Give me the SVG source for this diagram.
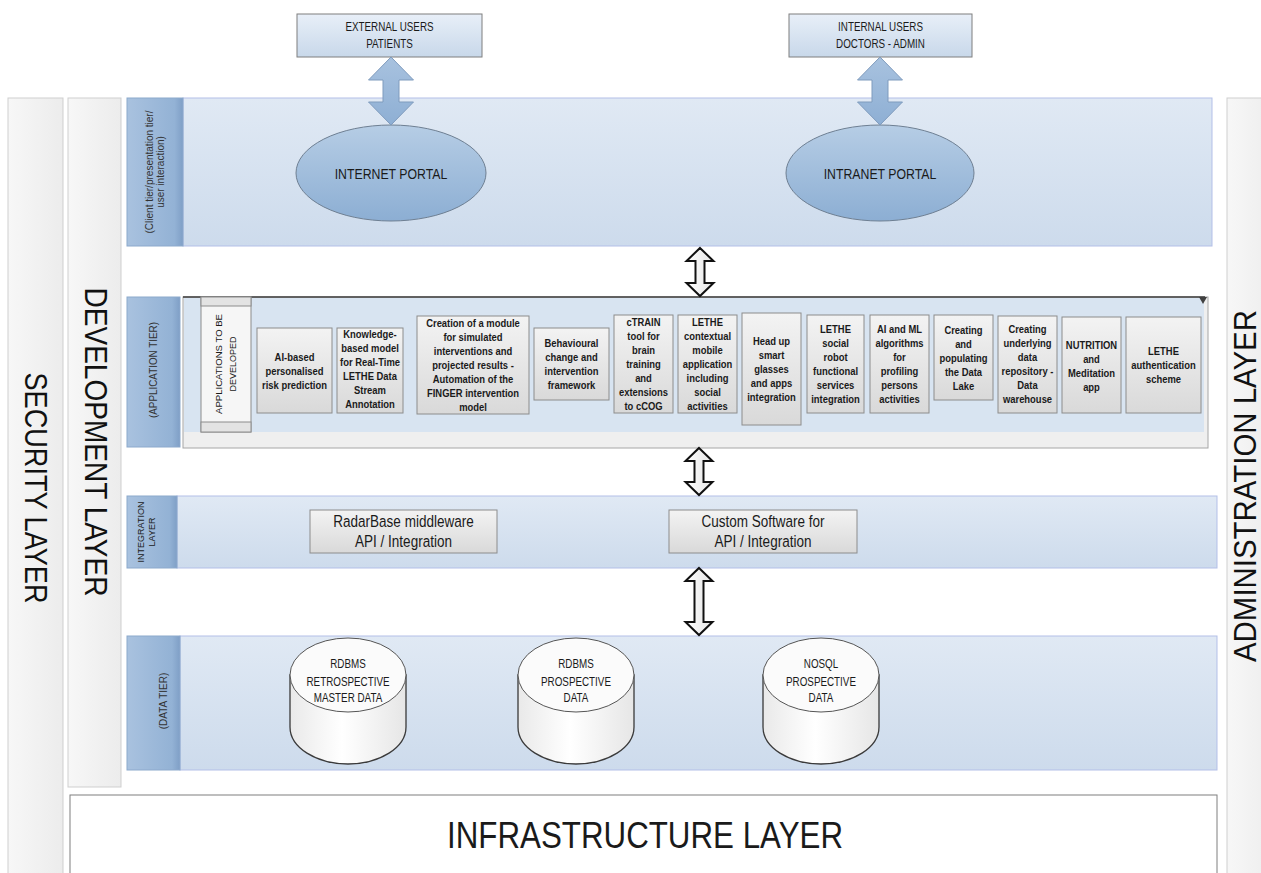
<svg xmlns="http://www.w3.org/2000/svg" width="1261" height="873" viewBox="0 0 1261 873">
  <defs>
    <linearGradient id="gSide" x1="0" y1="0" x2="1" y2="0">
      <stop offset="0" stop-color="#f7f7f7"/>
      <stop offset="1" stop-color="#ececec"/>
    </linearGradient>
    <linearGradient id="gBand" x1="0" y1="0" x2="0" y2="1">
      <stop offset="0" stop-color="#e0e9f4"/>
      <stop offset="1" stop-color="#cddbec"/>
    </linearGradient>
    <linearGradient id="gTab" x1="0" y1="0" x2="1" y2="0">
      <stop offset="0" stop-color="#a9c2df"/>
      <stop offset="0.85" stop-color="#93b2d5"/>
      <stop offset="1" stop-color="#7f9fc6"/>
    </linearGradient>
    <linearGradient id="gUser" x1="0" y1="0" x2="0" y2="1">
      <stop offset="0" stop-color="#e8eff8"/>
      <stop offset="1" stop-color="#c8d8ea"/>
    </linearGradient>
    <linearGradient id="gPortal" x1="0" y1="0" x2="0" y2="1">
      <stop offset="0" stop-color="#b6cde5"/>
      <stop offset="1" stop-color="#8caed3"/>
    </linearGradient>
    <linearGradient id="gBlueArrow" x1="0" y1="0" x2="0" y2="1">
      <stop offset="0" stop-color="#a8c2df"/>
      <stop offset="1" stop-color="#8eafd4"/>
    </linearGradient>
    <linearGradient id="gBox" x1="0" y1="0" x2="0" y2="1">
      <stop offset="0" stop-color="#f3f3f3"/>
      <stop offset="1" stop-color="#d9d9d9"/>
    </linearGradient>
    <linearGradient id="gHollow" x1="0" y1="0" x2="1" y2="0">
      <stop offset="0" stop-color="#ffffff"/>
      <stop offset="1" stop-color="#e4e4e4"/>
    </linearGradient>
    <linearGradient id="gCyl" x1="0" y1="0" x2="1" y2="0">
      <stop offset="0" stop-color="#e9e9e9"/>
      <stop offset="0.45" stop-color="#ffffff"/>
      <stop offset="1" stop-color="#e6e6e6"/>
    </linearGradient>
    <style>
      .side { fill: url(#gSide); stroke: #cfcfcf; stroke-width: 1; }
      .band { fill: url(#gBand); stroke: #b3bfe8; stroke-width: 1; }
      .tab { fill: url(#gTab); stroke: #8ca9cc; stroke-width: 1; }
      .user { fill: url(#gUser); stroke: #7f7f7f; stroke-width: 1; }
      .portal { fill: url(#gPortal); stroke: #6e7f92; stroke-width: 1; }
      .barrow { fill: url(#gBlueArrow); stroke: #7f9bbd; stroke-width: 1; }
      .box { fill: url(#gBox); stroke: #8c8c8c; stroke-width: 1; }
      .hollow { fill: url(#gHollow); stroke: #111; stroke-width: 2; stroke-linejoin: miter; }
      .cyl { fill: url(#gCyl); stroke: #3a3a3a; stroke-width: 1.3; }
      .cylTop { fill: #fbfbfb; stroke: #555; stroke-width: 1; }
      text { font-family: "Liberation Sans", Arial, sans-serif; fill: #1a1a1a; dominant-baseline: central; text-anchor: middle; }
      .big { font-size: 31px; fill: #111; }
      .app { font-size: 11.5px; font-weight: bold; }
      .tabtxt { font-size: 10px; fill: #333; }
    </style>
  </defs>

  <rect width="1261" height="873" fill="#ffffff"/>

  <!-- outer layers -->
  <g id="security-layer">
    <rect class="side" x="8" y="98" width="55" height="790"/>
    <text class="big" transform="translate(35 488) rotate(90)" textLength="231" lengthAdjust="spacingAndGlyphs">SECURITY LAYER</text>
  </g>
  <g id="development-layer">
    <rect class="side" x="68" y="98" width="53" height="689"/>
    <text class="big" transform="translate(95 442) rotate(90)" textLength="309" lengthAdjust="spacingAndGlyphs">DEVELOPMENT LAYER</text>
  </g>
  <g id="administration-layer">
    <rect class="side" x="1227" y="98" width="50" height="790"/>
    <text class="big" transform="translate(1245 486) rotate(-90)" textLength="352" lengthAdjust="spacingAndGlyphs">ADMINISTRATION LAYER</text>
  </g>
  <g id="infrastructure-layer">
    <rect x="70" y="795" width="1147" height="90" fill="#ffffff" stroke="#7f7f7f" stroke-width="1"/>
    <text x="645" y="835" font-size="37" fill="#111" textLength="396" lengthAdjust="spacingAndGlyphs">INFRASTRUCTURE LAYER</text>
  </g>

  <!-- presentation tier -->
  <g id="presentation-tier">
    <rect class="band" x="183" y="98" width="1029" height="148"/>
    <rect class="tab" x="127" y="98" width="56" height="148"/>
    <g transform="translate(155 172) rotate(-90)">
      <text class="tabtxt" x="0" y="-5.5" textLength="123" lengthAdjust="spacingAndGlyphs">(Client tier/presentation tier/</text>
      <text class="tabtxt" x="0" y="5.5">user interaction)</text>
    </g>
  </g>

  <!-- user groups -->
  <g id="external-users">
    <rect class="user" x="297" y="14" width="185" height="43"/>
    <g transform="translate(389.5 0) scale(0.82 1)">
      <text x="0" y="27" font-size="12">EXTERNAL USERS</text>
      <text x="0" y="44" font-size="12">PATIENTS</text>
    </g>
  </g>
  <g id="internal-users">
    <rect class="user" x="789" y="14" width="183" height="43"/>
    <g transform="translate(880.5 0) scale(0.82 1)">
      <text x="0" y="27" font-size="12">INTERNAL USERS</text>
      <text x="0" y="44" font-size="12">DOCTORS - ADMIN</text>
    </g>
  </g>

  <!-- portals -->
  <g id="internet-portal">
    <ellipse class="portal" cx="391" cy="173" rx="95" ry="48"/>
    <text transform="translate(391 174) scale(0.82 1)" x="0" y="0" font-size="15">INTERNET PORTAL</text>
  </g>
  <g id="intranet-portal">
    <ellipse class="portal" cx="880" cy="173" rx="94" ry="48"/>
    <text transform="translate(880 174) scale(0.82 1)" x="0" y="0" font-size="15">INTRANET PORTAL</text>
  </g>

  <!-- application tier -->
  <g id="application-tier">
    <rect x="183" y="297" width="1025" height="151" fill="#efefef" stroke="#a6a6a6" stroke-width="1"/>
    <rect x="184" y="298" width="1020" height="134" fill="#d8e4f1"/>
    <line x1="183" y1="297" x2="1205" y2="297" stroke="#3c3c3c" stroke-width="1.3"/>
    <polygon points="1199,297 1207,297 1203,304" fill="#404040"/>
    <rect class="tab" x="127" y="297" width="53" height="150"/>
    <text class="tabtxt" transform="translate(153 370) rotate(-90)" textLength="96" lengthAdjust="spacingAndGlyphs">(APPLICATION TIER)</text>
  </g>

  <g id="apps-lane-header">
    <rect x="201" y="297" width="50" height="135" fill="#f6f6f6" stroke="#8c8c8c" stroke-width="1"/>
    <rect x="201" y="297" width="50" height="9" fill="#e3e3e3" stroke="#8c8c8c" stroke-width="1"/>
    <rect x="201" y="422" width="50" height="10" fill="#e3e3e3" stroke="#8c8c8c" stroke-width="1"/>
    <g transform="translate(226 364) rotate(-90)">
      <text x="0" y="-7" font-size="9" fill="#3a64a0" textLength="100" lengthAdjust="spacingAndGlyphs">APPLICATIONS TO BE</text>
      <text x="0" y="7" font-size="9" fill="#3a64a0">DEVELOPED</text>
    </g>
  </g>

  <g id="app-risk-prediction">
    <rect class="box" x="257" y="328" width="75" height="85"/>
    <text class="app" transform="translate(294.5 0) scale(0.82 1)"><tspan x="0" y="357">AI-based</tspan><tspan x="0" y="371">personalised</tspan><tspan x="0" y="385">risk prediction</tspan></text>
  </g>
  <g id="app-knowledge-model">
    <rect class="box" x="337" y="328" width="66" height="85"/>
    <text class="app" transform="translate(370 0) scale(0.82 1)"><tspan x="0" y="334">Knowledge-</tspan><tspan x="0" y="348">based model</tspan><tspan x="0" y="362">for Real-Time</tspan><tspan x="0" y="376">LETHE Data</tspan><tspan x="0" y="390">Stream</tspan><tspan x="0" y="404">Annotation</tspan></text>
  </g>
  <g id="app-simulated-interventions">
    <rect class="box" x="417" y="316" width="112" height="98"/>
    <text class="app" transform="translate(473 0) scale(0.82 1)"><tspan x="0" y="323">Creation of a module</tspan><tspan x="0" y="337">for simulated</tspan><tspan x="0" y="351">interventions and</tspan><tspan x="0" y="365">projected results -</tspan><tspan x="0" y="379">Automation of the</tspan><tspan x="0" y="393">FINGER intervention</tspan><tspan x="0" y="407">model</tspan></text>
  </g>
  <g id="app-behavioural-change">
    <rect class="box" x="534" y="328" width="75" height="72"/>
    <text class="app" transform="translate(571.5 0) scale(0.82 1)"><tspan x="0" y="343">Behavioural</tspan><tspan x="0" y="357">change and</tspan><tspan x="0" y="371">intervention</tspan><tspan x="0" y="385">framework</tspan></text>
  </g>
  <g id="app-ctrain">
    <rect class="box" x="614" y="315" width="59" height="98"/>
    <text class="app" transform="translate(643.5 0) scale(0.82 1)"><tspan x="0" y="322">cTRAIN</tspan><tspan x="0" y="336">tool for</tspan><tspan x="0" y="350">brain</tspan><tspan x="0" y="364">training</tspan><tspan x="0" y="378">and</tspan><tspan x="0" y="392">extensions</tspan><tspan x="0" y="406">to cCOG</tspan></text>
  </g>
  <g id="app-contextual-mobile">
    <rect class="box" x="678" y="315" width="59" height="98"/>
    <text class="app" transform="translate(707.5 0) scale(0.82 1)"><tspan x="0" y="322">LETHE</tspan><tspan x="0" y="336">contextual</tspan><tspan x="0" y="350">mobile</tspan><tspan x="0" y="364">application</tspan><tspan x="0" y="378">including</tspan><tspan x="0" y="392">social</tspan><tspan x="0" y="406">activities</tspan></text>
  </g>
  <g id="app-smart-glasses">
    <rect class="box" x="742" y="313" width="59" height="112"/>
    <text class="app" transform="translate(771.5 0) scale(0.82 1)"><tspan x="0" y="341">Head up</tspan><tspan x="0" y="355">smart</tspan><tspan x="0" y="369">glasses</tspan><tspan x="0" y="383">and apps</tspan><tspan x="0" y="397">integration</tspan></text>
  </g>
  <g id="app-social-robot">
    <rect class="box" x="807" y="315" width="57" height="98"/>
    <text class="app" transform="translate(835.5 0) scale(0.82 1)"><tspan x="0" y="329">LETHE</tspan><tspan x="0" y="343">social</tspan><tspan x="0" y="357">robot</tspan><tspan x="0" y="371">functional</tspan><tspan x="0" y="385">services</tspan><tspan x="0" y="399">integration</tspan></text>
  </g>
  <g id="app-profiling">
    <rect class="box" x="870" y="315" width="59" height="98"/>
    <text class="app" transform="translate(899.5 0) scale(0.82 1)"><tspan x="0" y="329">AI and ML</tspan><tspan x="0" y="343">algorithms</tspan><tspan x="0" y="357">for</tspan><tspan x="0" y="371">profiling</tspan><tspan x="0" y="385">persons</tspan><tspan x="0" y="399">activities</tspan></text>
  </g>
  <g id="app-data-lake">
    <rect class="box" x="934" y="315" width="59" height="85"/>
    <text class="app" transform="translate(963.5 0) scale(0.82 1)"><tspan x="0" y="330">Creating</tspan><tspan x="0" y="344">and</tspan><tspan x="0" y="358">populating</tspan><tspan x="0" y="372">the Data</tspan><tspan x="0" y="386">Lake</tspan></text>
  </g>
  <g id="app-data-warehouse">
    <rect class="box" x="998" y="316" width="59" height="97"/>
    <text class="app" transform="translate(1027.5 0) scale(0.82 1)"><tspan x="0" y="329">Creating</tspan><tspan x="0" y="343">underlying</tspan><tspan x="0" y="357">data</tspan><tspan x="0" y="371">repository -</tspan><tspan x="0" y="385">Data</tspan><tspan x="0" y="399">warehouse</tspan></text>
  </g>
  <g id="app-nutrition">
    <rect class="box" x="1062" y="317" width="59" height="96"/>
    <text class="app" transform="translate(1091.5 0) scale(0.82 1)"><tspan x="0" y="345">NUTRITION</tspan><tspan x="0" y="359">and</tspan><tspan x="0" y="373">Meditation</tspan><tspan x="0" y="387">app</tspan></text>
  </g>
  <g id="app-authentication">
    <rect class="box" x="1126" y="317" width="75" height="96"/>
    <text class="app" transform="translate(1163.5 0) scale(0.82 1)"><tspan x="0" y="351">LETHE</tspan><tspan x="0" y="365">authentication</tspan><tspan x="0" y="379">scheme</tspan></text>
  </g>

  <!-- integration layer -->
  <g id="integration-layer">
    <rect class="band" x="177" y="496" width="1040" height="72"/>
    <rect class="tab" x="127" y="496" width="50" height="72"/>
    <g transform="translate(146 532) rotate(-90)">
      <text x="0" y="-5" font-size="9" fill="#4d6078">INTEGRATION</text>
      <text x="0" y="5.5" font-size="9" fill="#4d6078">LAYER</text>
    </g>
  </g>
  <g id="radarbase-middleware">
    <rect class="box" x="310" y="510" width="187" height="43"/>
    <g transform="translate(403.5 0) scale(0.82 1)">
      <text x="0" y="521" font-size="16.5">RadarBase middleware</text>
      <text x="0" y="541" font-size="16.5">API / Integration</text>
    </g>
  </g>
  <g id="custom-software">
    <rect class="box" x="669" y="510" width="188" height="43"/>
    <g transform="translate(763 0) scale(0.82 1)">
      <text x="0" y="521" font-size="16.5">Custom Software for</text>
      <text x="0" y="541" font-size="16.5">API / Integration</text>
    </g>
  </g>

  <!-- data tier -->
  <g id="data-tier">
    <rect class="band" x="180" y="636" width="1037" height="134"/>
    <rect class="tab" x="127" y="636" width="53" height="134"/>
    <text class="tabtxt" transform="translate(163 701) rotate(-90)">(DATA TIER)</text>
  </g>
  <g id="db-retrospective">
    <path class="cyl" d="M290,675 L290,727 A58,37 0 0 0 406,727 L406,675 Z"/>
    <ellipse class="cylTop" cx="348" cy="675" rx="58" ry="37"/>
    <g transform="translate(348 0) scale(0.82 1)">
      <text x="0" y="664" font-size="12">RDBMS</text>
      <text x="0" y="682" font-size="12">RETROSPECTIVE</text>
      <text x="0" y="698" font-size="12">MASTER DATA</text>
    </g>
  </g>
  <g id="db-prospective">
    <path class="cyl" d="M518,675 L518,727 A58,37 0 0 0 634,727 L634,675 Z"/>
    <ellipse class="cylTop" cx="576" cy="675" rx="58" ry="37"/>
    <g transform="translate(576 0) scale(0.82 1)">
      <text x="0" y="664" font-size="12">RDBMS</text>
      <text x="0" y="682" font-size="12">PROSPECTIVE</text>
      <text x="0" y="698" font-size="12">DATA</text>
    </g>
  </g>
  <g id="nosql-prospective">
    <path class="cyl" d="M763,675 L763,727 A58,37 0 0 0 879,727 L879,675 Z"/>
    <ellipse class="cylTop" cx="821" cy="675" rx="58" ry="37"/>
    <g transform="translate(821 0) scale(0.82 1)">
      <text x="0" y="664" font-size="12">NOSQL</text>
      <text x="0" y="682" font-size="12">PROSPECTIVE</text>
      <text x="0" y="698" font-size="12">DATA</text>
    </g>
  </g>

  <!-- connectors: double-headed block arrows -->
  <g id="connectors">
    <polygon class="barrow" points="391,57 413.5,80 399,80 399,102 413.5,102 391,125 368.5,102 383,102 383,80 368.5,80"/>
    <polygon class="barrow" points="880,57 902.5,80 888,80 888,102 902.5,102 880,125 857.5,102 872,102 872,80 857.5,80"/>
    <polygon class="hollow" points="700,248 713.5,261 704.5,261 704.5,283 713.5,283 700,296 686.5,283 695.5,283 695.5,261 686.5,261"/>
    <polygon class="hollow" points="699,448 712.5,461 703.5,461 703.5,482 712.5,482 699,495 685.5,482 694.5,482 694.5,461 685.5,461"/>
    <polygon class="hollow" points="699,568 712.5,581 703.5,581 703.5,622 712.5,622 699,635 685.5,622 694.5,622 694.5,581 685.5,581"/>
  </g>
</svg>
